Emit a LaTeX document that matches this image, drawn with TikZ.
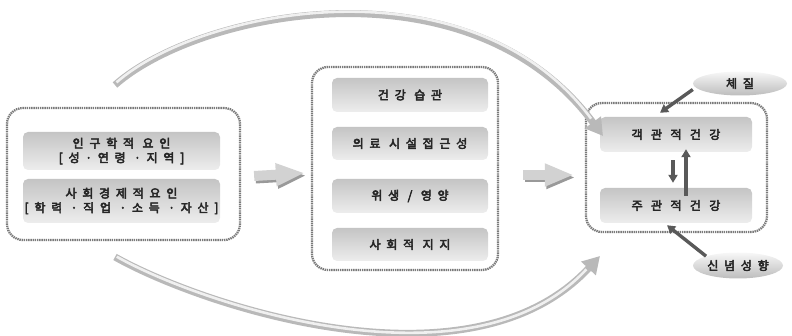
\documentclass[tikz,border=0pt]{standalone}
\usepackage{fontspec}
\setmainfont[LetterSpace=48, FakeBold=4]{Noto Sans CJK KR}
\usetikzlibrary{arrows.meta,shapes.geometric}
\begin{document}
\begin{tikzpicture}[x=1pt,y=-1pt,
  grp/.style={draw=black!52, dash pattern=on 1.4pt off 0.8pt, line width=2.3pt, rounded corners=16pt, inner sep=0pt},
  item/.style={rounded corners=5pt, top color=gray!46, bottom color=gray!14, align=center, inner sep=0pt,
    font=\fontsize{12}{14.5}\selectfont, text=black!85},
  ell/.style={ellipse, top color=gray!6, bottom color=gray!52, inner sep=0pt,
    font=\fontsize{12}{13}\selectfont, text=black!85},
  wide/.style={font=\fontsize{12}{14.5}\selectfont\addfontfeature{LetterSpace=70}},
  bigarc/.style={line width=7pt, draw=gray!55, -{Triangle[length=17pt,width=19pt]}},
  archl/.style={line width=2.6pt, draw=gray!12},
  blk/.style={line width=10pt, draw=gray!35, -{Triangle[length=29pt,width=21pt]}},
  blkshadow/.style={line width=10pt, draw=gray!80, -{Triangle[length=29pt,width=21pt]}},
  darr/.style={line width=3.4pt, draw=black!65, -{Triangle[length=8pt,width=9pt]}}
]
\useasboundingbox (0,0) rectangle (792,336);

% group frames
\node[grp, minimum width=233pt, minimum height=132pt] (L) at (123.5,174) {};
\node[grp, minimum width=186pt, minimum height=203pt] (M) at (405,168.5) {};
\node[grp, minimum width=181pt, minimum height=129pt] (R) at (676.5,167.5) {};

% left items
\node[item, minimum width=197pt, minimum height=38pt] (L1) at (121.5,151) {인구학적 요인\\{[}성·연령 ·지역{]}};
\node[item, minimum width=197pt, minimum height=44pt] (L2) at (121.5,201) {사회경제적요인\\{[}학력 ·직업 ·소득 ·자산{]}};

% middle items
\node[item, minimum width=156pt, minimum height=34pt] (M1) at (410,95) {건강 습관};
\node[item, minimum width=156pt, minimum height=33pt] (M2) at (410,143.5) {의료 시설접근성};
\node[item, minimum width=156pt, minimum height=34pt] (M3) at (410,196) {위생 / 영양};
\node[item, minimum width=156pt, minimum height=33pt] (M4) at (410,244.5) {사회적 지지};

% right items
\node[item, wide, minimum width=152pt, minimum height=35pt] (R1) at (676,134.5) {객관적건강};
\node[item, wide, minimum width=152pt, minimum height=35pt] (R2) at (676,205.5) {주관적건강};

% ellipses
\node[ell, minimum width=94pt, minimum height=24pt] (E1) at (740,83.5) {체질};
\node[ell, minimum width=90pt, minimum height=26pt] (E2) at (738,265.5) {신념성향};

% big curved arrows
\coordinate (ta) at (115,85);
\coordinate (tb) at (603,136);
\coordinate (ba) at (115,257);
\coordinate (bb) at (600,256);
\draw[bigarc] (ta) .. controls (200,10) and (470,-43) .. (tb);
\draw[archl, shorten >=20pt, shorten <=2pt] ([yshift=1.3pt]ta) .. controls ([yshift=1.3pt]200,10) and ([yshift=1.3pt]470,-43) .. ([yshift=1.3pt]tb);
\draw[bigarc] (ba) .. controls (200,305) and (470,396) .. (bb);
\draw[archl, shorten >=20pt, shorten <=2pt] ([yshift=1.3pt]ba) .. controls ([yshift=1.3pt]200,305) and ([yshift=1.3pt]470,396) .. ([yshift=1.3pt]bb);

% block arrows
\draw[blkshadow] ([xshift=14.5pt,yshift=-4.5pt]L.east) -- ([xshift=-4.5pt,yshift=-7pt]M.west);
\draw[blk] ([xshift=13pt,yshift=-2pt]L.east) -- ([xshift=-6pt,yshift=-4.5pt]M.west);
\draw[blkshadow] ([xshift=25.5pt,yshift=-9pt]M.east) -- ([xshift=-9.5pt,yshift=-10pt]R.west);
\draw[blk] ([xshift=24pt,yshift=-6.5pt]M.east) -- ([xshift=-11pt,yshift=-7.5pt]R.west);

% small dark arrows
\draw[darr] ([yshift=-6pt]E1.west) -- ([xshift=-16pt,yshift=4pt]R1.north);
\draw[darr] (E2.north west) -- ([xshift=-9pt,yshift=-2pt]R2.south);
\draw[darr] ([xshift=-3pt,yshift=-8pt]R1.south) -- ([xshift=-3pt,yshift=5pt]R2.north);
\draw[darr] ([xshift=10pt,yshift=-8pt]R2.north) -- ([xshift=10pt,yshift=3pt]R1.south);
\end{tikzpicture}
\end{document}
